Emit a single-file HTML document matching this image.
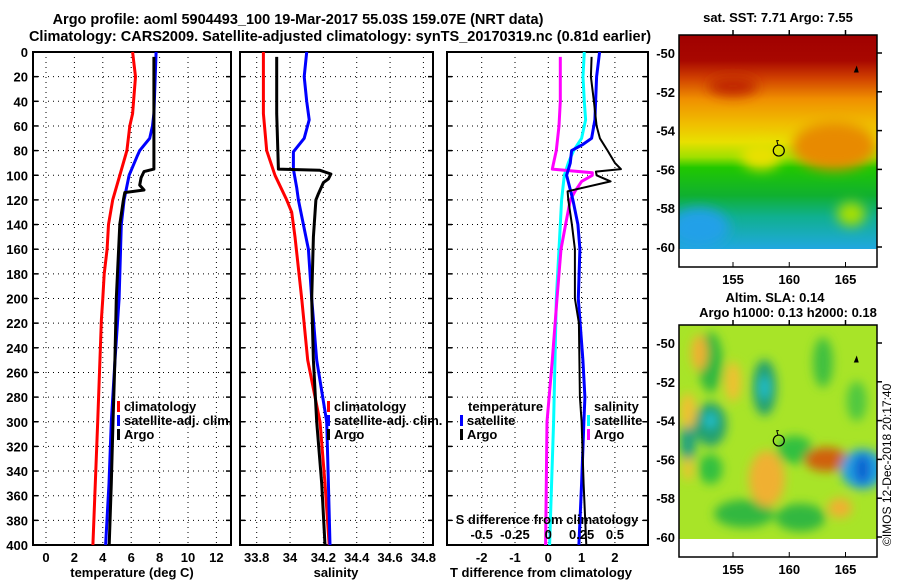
<!DOCTYPE html>
<html><head><meta charset="utf-8"><style>
html,body{margin:0;padding:0;background:#fff;}
svg{display:block;font-family:"Liberation Sans",sans-serif;font-weight:bold;}
</style></head><body>
<svg id="chart" width="900" height="580" viewBox="0 0 900 580" xmlns="http://www.w3.org/2000/svg">
<text x="298" y="24" font-size="14.5" text-anchor="middle">Argo profile: aoml 5904493_100 19-Mar-2017 55.03S 159.07E (NRT data)</text>
<text x="340" y="41" font-size="14.5" text-anchor="middle">Climatology: CARS2009. Satellite-adjusted climatology: synTS_20170319.nc (0.81d earlier)</text>
<g id="plots"></g>
<g id="maps"></g>
</svg>
<script>
// ---- data ----
const pressureTicks = [0,20,40,60,80,100,120,140,160,180,200,220,240,260,280,300,320,340,360,380,400];
const tempTicks = [0,2,4,6,8,10,12];
const salTicks = [33.8,34,34.2,34.4,34.6,34.8];
const tdiffTicks = [-2,-1,0,1,2];
const sdiffTicks = [-0.5,-0.25,0,0.25,0.5];

const tempClimP = [0,20,50,60,80,100,120,140,160,180,200,217,300,400];
const tempClimV = [6.1,6.3,6.1,5.9,5.7,5.2,4.7,4.4,4.3,4.1,4.0,3.9,3.64,3.3];
const tempSatP = [0,50,60,70,80,85,100,120,140,200,250,300,350,400];
const tempSatV = [7.75,7.6,7.5,7.3,6.6,6.4,5.85,5.5,5.3,5.15,4.86,4.6,4.44,4.2];
const tempArgoP = [4,95,97,102,108,112,114,120,140,200,250,300,350,400];
const tempArgoV = [7.6,7.6,6.9,6.7,6.6,6.9,5.55,5.45,5.2,4.95,4.85,4.72,4.6,4.45];

const salClimP = [0,50,80,100,120,130,150,200,250,300,350,400];
const salClimV = [33.84,33.84,33.86,33.91,33.98,34.01,34.03,34.07,34.106,34.18,34.21,34.235];
const salSatP = [0,20,40,55,70,81,95,110,120,160,200,250,300,350,400];
const salSatV = [34.1,34.085,34.1,34.115,34.085,34.02,34.02,34.04,34.05,34.11,34.13,34.16,34.22,34.23,34.24];
const salArgoP = [4,50,95,96,99,103,106,115,120,150,200,250,300,350,400];
const salArgoV = [33.92,33.92,33.93,34.18,34.245,34.23,34.2,34.17,34.155,34.14,34.13,34.14,34.16,34.19,34.21];

const dTSatP = [0,20,55,70,75,80,90,100,120,140,160,200,250,280,300,350,400];
const dTSatV = [1.54,1.45,1.4,1.3,1.04,0.7,0.66,0.55,0.74,0.89,0.95,0.9,1.04,1.1,1.07,1.0,0.92];
const dTArgoP = [4,20,40,60,70,80,90,95,97,100,105,113,120,140,160,200,220,280,300,350,400];
const dTArgoV = [1.3,1.28,1.37,1.45,1.55,1.78,2.0,2.18,1.43,1.45,1.87,0.58,0.6,0.71,0.8,0.8,0.92,0.95,1.0,1.06,1.14];
const dSSatP = [0,20,40,55,70,80,90,100,120,160,200,250,300,400];
const dSSatV = [0.27,0.26,0.27,0.28,0.25,0.19,0.15,0.12,0.10,0.08,0.06,0.05,0.04,0.01];
const dSArgoP = [4,40,60,80,90,95,98,100,105,113,120,140,160,200,250,300,350,400];
const dSArgoV = [0.09,0.09,0.08,0.06,0.04,0.03,0.33,0.33,0.25,0.2,0.165,0.13,0.095,0.065,0.03,-0.01,-0.015,-0.02];

const lonTicks = [155,160,165];
const latTicks = [-50,-52,-54,-56,-58,-60];
const argoLon = 159.07, argoLat = -55.03;

// ---- helpers ----
const NS = 'http://www.w3.org/2000/svg';
const plots = document.getElementById('plots');
function mk(tag, attrs, parent){const e=document.createElementNS(NS,tag);for(const k in attrs)e.setAttribute(k,attrs[k]);(parent||plots).appendChild(e);return e;}
const yP = p => 52 + p*1.2325;
function panel(name, x0, x1, xTicks, xs, labels, showY){
  const g = mk('g',{});
  
  
  pressureTicks.forEach(p=>{
    const y=yP(p);
    if(p>0&&p<400){const l=mk('line',{x1:x0,x2:x1,y1:y,y2:y,stroke:'#000','stroke-width':1,'stroke-dasharray':'1,4'},g);
      
      }
    mk('line',{x1:x0,x2:x0+5,y1:y,y2:y,stroke:'#000','stroke-width':1.5},g);
    mk('line',{x1:x1-5,x2:x1,y1:y,y2:y,stroke:'#000','stroke-width':1.5},g);
    if(showY){const t=mk('text',{x:28,y:y+5,'font-size':13,'text-anchor':'end'},g);t.textContent=p;
      
      }
  });
  xTicks.forEach((v,i)=>{
    const x=xs(v);
    const l=mk('line',{x1:x,x2:x,y1:yP(0),y2:yP(400),stroke:'#000','stroke-width':1,'stroke-dasharray':'1,4'},g);
    
    
    if(labels){const t=mk('text',{x:x,y:562,'font-size':13,'text-anchor':'middle'},g);t.textContent=labels[i];
      
      }
  });
  const r=mk('rect',{x:x0,y:yP(0),width:x1-x0,height:yP(400)-yP(0),fill:'none',stroke:'#000','stroke-width':2},g);
  
  
  return g;
}
function line(g, P, V, xs, color, w, name){
  const pts=P.map((p,i)=>xs(V[i]).toFixed(1)+','+yP(p).toFixed(1)).join(' ');
  const l=mk('polyline',{points:pts,fill:'none',stroke:color,'stroke-width':w,'stroke-linejoin':'round'},g);
  
  
}
function txt(g,x,y,s,size,anchor,name,fill){const t=mk('text',{x:x,y:y,'font-size':size||13,'text-anchor':anchor||'start',fill:fill||'#000'},g);t.textContent=s;
  
  return t;}
function legend(g,x,y,color,s,name){
  const m=mk('rect',{x:x,y:y-10,width:3,height:11,fill:color},g);
  
  
  txt(g,x+7,y,s,13,'start',name);
}

// Panel 1: temperature
const xT = v => 46 + v*14.2;
const g1 = panel('temperature-panel',33,231,tempTicks,xT,tempTicks,true);
line(g1,tempClimP,tempClimV,xT,'#f00',3,'temp-climatology-line');
line(g1,tempSatP,tempSatV,xT,'#00f',3,'temp-satellite-line');
line(g1,tempArgoP,tempArgoV,xT,'#000',3,'temp-argo-line');
legend(g1,117,411,'#f00','climatology','legend-climatology');
legend(g1,117,425,'#00f','satellite-adj. clim.','legend-satellite-adj');
legend(g1,117,439,'#000','Argo','legend-argo');
txt(g1,132,577,'temperature (deg C)',13,'middle','x-axis-title-temperature');

// Panel 2: salinity
const xS = v => 256.7 + (v-33.8)*166.7;
const g2 = panel('salinity-panel',240,433,salTicks,xS,['33.8','34','34.2','34.4','34.6','34.8'],false);
line(g2,salClimP,salClimV,xS,'#f00',3,'sal-climatology-line');
line(g2,salSatP,salSatV,xS,'#00f',3,'sal-satellite-line');
line(g2,salArgoP,salArgoV,xS,'#000',3,'sal-argo-line');
legend(g2,327,411,'#f00','climatology','legend-climatology-sal');
legend(g2,327,425,'#00f','satellite-adj. clim.','legend-satellite-adj-sal');
legend(g2,327,439,'#000','Argo','legend-argo-sal');
txt(g2,336,577,'salinity',13,'middle','x-axis-title-salinity');

// Panel 3: differences
const xD = v => 548.3 + v*33.3;
const xDS = v => 548.3 + v*133.3;
const g3 = panel('difference-panel',447,648,tdiffTicks,xD,tdiffTicks,false);
line(g3,dSSatP,dSSatV,xDS,'#0ff',3,'sdiff-satellite-line');
line(g3,dSArgoP,dSArgoV,xDS,'#f0f',3,'sdiff-argo-line');
line(g3,dTSatP,dTSatV,xD,'#00f',3,'tdiff-satellite-line');
line(g3,dTArgoP,dTArgoV,xD,'#000',2,'tdiff-argo-line');
txt(g3,468,411,'temperature',13,'start','legend-temperature-heading');
legend(g3,460,425,'#00f','satellite','legend-tdiff-satellite');
legend(g3,460,439,'#000','Argo','legend-tdiff-argo');
txt(g3,594,411,'salinity',13,'start','legend-salinity-heading');
legend(g3,587,425,'#0ff','satellite','legend-sdiff-satellite');
legend(g3,587,439,'#f0f','Argo','legend-sdiff-argo');
txt(g3,547,524,'S difference from climatology',13,'middle','s-diff-axis-title');
sdiffTicks.forEach(v=>{txt(g3,xDS(v),539,String(v),13,'middle','s-diff-tick-label');});
txt(g3,541,577,'T difference from climatology',13,'middle','x-axis-title-tdiff');

// ---- maps ----
const maps = document.getElementById('maps');
const mxL=679, mxR=877, lon0=150.2, lon1=167.8;
const mLon = v => mxL + (v-lon0)*(mxR-mxL)/(lon1-lon0);
function mapFrame(name, top, lat50, drawFill){
  const g=mk('g',{},maps);
  
  
  const mLat = v => lat50 + (-50 - v)*19.4;
  drawFill(g, top, mLat);
  const bottom=top+232;
  mk('rect',{x:mxL,y:top,width:mxR-mxL,height:bottom-top,fill:'none',stroke:'#000','stroke-width':1.5},g);
  lonTicks.forEach(v=>{const x=mLon(v);
    mk('line',{x1:x,x2:x,y1:top-5,y2:top,stroke:'#000','stroke-width':1.5},g);
    mk('line',{x1:x,x2:x,y1:bottom,y2:bottom-5,stroke:'#000','stroke-width':1},g);
    txt(g,x,bottom+17,String(v),13,'middle','lon-tick-label');});
  latTicks.forEach(v=>{const y=mLat(v);
    mk('line',{x1:mxR,x2:mxR+5,y1:y,y2:y,stroke:'#000','stroke-width':1.5},g);
    txt(g,675,y+5,String(v),13,'end','lat-tick-label');});
  const c=mk('circle',{cx:mLon(argoLon),cy:mLat(argoLat),r:5.5,fill:'none',stroke:'#000','stroke-width':1.2},g);
  
  
  mk('path',{d:`M${mLon(argoLon)-1},${mLat(argoLat)-6} l-1,-4 l2,0`,stroke:'#000',fill:'none','stroke-width':1},g);
  mk('path',{d:`M${mLon(166)-3},${mLat(-50.9)+2} l3,-7 l2,7 z`,fill:'#000'},g);
  return g;
}
// SST map
mapFrame('sst-map',35,53,(g,top,mLat)=>{
  const d=mk('defs',{},g);
  const lg=mk('linearGradient',{id:'sstg',x1:0,y1:0,x2:0,y2:1},d);
  [['0','#a00000'],['0.12','#a80800'],['0.2','#d04000'],['0.3','#f09000'],['0.42','#f0c000'],['0.5','#e8e000'],['0.57','#a0e000'],['0.62','#20c800'],['0.75','#10b030'],['0.85','#10b090'],['1','#20a8e0']].forEach(s=>mk('stop',{offset:s[0],'stop-color':s[1]},lg));
  const f=mk('filter',{id:'blur2'},d); mk('feGaussianBlur',{stdDeviation:6},f);
  const cp=mk('clipPath',{id:'sstclip'},d); mk('rect',{x:mxL,y:top,width:mxR-mxL,height:mLat(-60)+2-top},cp);
  const gg=mk('g',{'clip-path':'url(#sstclip)'},g);
  
  
  mk('rect',{x:mxL,y:top,width:mxR-mxL,height:mLat(-60)+2-top,fill:'url(#sstg)'},gg);
  const bl=mk('g',{filter:'url(#blur2)'},gg);
  mk('ellipse',{cx:mLon(164),cy:mLat(-54.8),rx:42,ry:24,fill:'#e88a00'},bl);
  mk('ellipse',{cx:mLon(157.5),cy:mLat(-55.3),rx:20,ry:14,fill:'#e8e000'},bl);
  mk('ellipse',{cx:mLon(165.5),cy:mLat(-58.3),rx:14,ry:12,fill:'#a8e000'},bl);
  mk('ellipse',{cx:mLon(152),cy:mLat(-59),rx:30,ry:20,fill:'#20a0e8'},bl);
  mk('ellipse',{cx:mLon(155),cy:mLat(-51.7),rx:25,ry:10,fill:'#c02800'},bl);
  txt(g,778,22,'sat. SST: 7.71 Argo: 7.55',13,'middle','sst-map-title');
});
// SLA map
mapFrame('sla-map',325,343,(g,top,mLat)=>{
  const d=mk('defs',{},g);
  const f=mk('filter',{id:'blur'},d); mk('feGaussianBlur',{stdDeviation:5},f);
  const cp=mk('clipPath',{id:'slaclip'},d); mk('rect',{x:mxL,y:top,width:mxR-mxL,height:mLat(-60)+2-top},cp);
  const gg=mk('g',{'clip-path':'url(#slaclip)'},g);
  
  
  mk('rect',{x:mxL,y:top,width:mxR-mxL,height:mLat(-60)+2-top,fill:'#a8e428'},gg);
  const bl=mk('g',{filter:'url(#blur)'},gg);
  [[153,-51,12,30,'#30b840'],[157.8,-52.3,12,28,'#20a070'],[153,-54.2,16,22,'#20a070'],[151,-55,8,25,'#20a080'],[160.5,-55.5,18,14,'#30c040'],
   [163,-51,10,25,'#40c040'],[166,-53,10,20,'#50c840'],[156,-58.8,30,14,'#30b840'],[161,-59,25,14,'#30b840'],
   [152,-50.5,8,18,'#f0b030'],[155,-52,8,20,'#f0c030'],[151,-53.5,8,18,'#f0c030'],[158,-57,18,28,'#f0b030'],[163.3,-56,22,12,'#d06010'],
   [166.5,-56.5,22,20,'#20a0e0'],[166.5,-56.5,8,15,'#1060d0'],[153,-56.5,12,15,'#30c040'],[164.5,-58.5,12,10,'#f0b030'],[151,-56.5,5,12,'#f0c030'],[157.8,-52.3,5,12,'#20c0d0'],[153,-54,6,8,'#20c0d0']]
   .forEach(e=>mk('ellipse',{cx:mLon(e[0]),cy:mLat(e[1]),rx:e[2],ry:e[3],fill:e[4]},bl));
  txt(g,775,302,'Altim. SLA: 0.14',13,'middle','sla-map-title-1');
  txt(g,788,317,'Argo h1000: 0.13 h2000: 0.18',13,'middle','sla-map-title-2');
});
const cr=document.createElementNS(NS,'text');
cr.setAttribute('transform','translate(891,546) rotate(-90)');
cr.setAttribute('font-size','12');cr.setAttribute('font-weight','normal');
cr.textContent='©IMOS 12-Dec-2018 20:17:40';


maps.appendChild(cr);
</script>
</body></html>
